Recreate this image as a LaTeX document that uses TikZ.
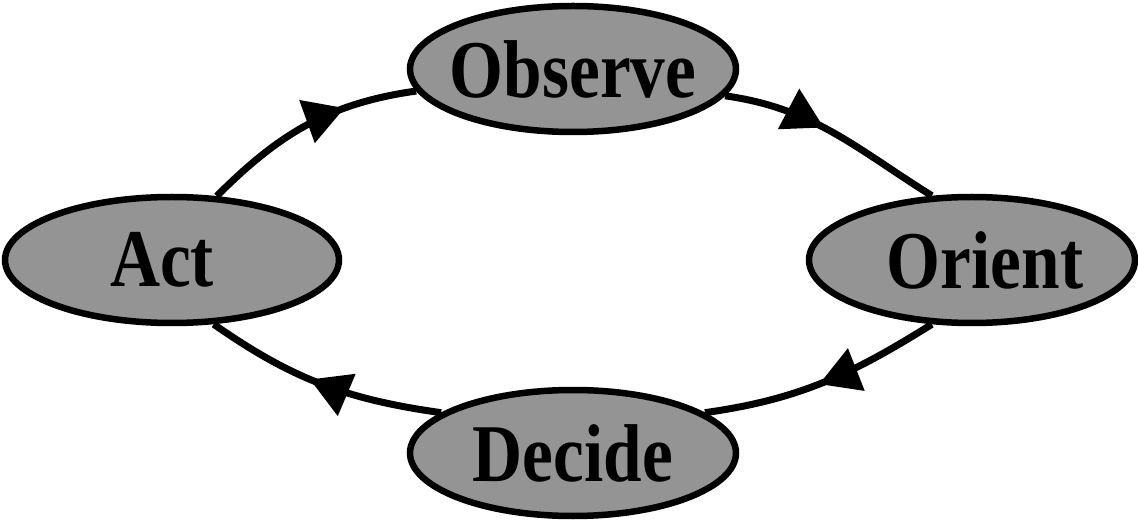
\documentclass[tikz,border=0pt]{standalone}
\usepackage{fontspec}
\setmainfont{Liberation Serif}
\newfontfamily\lblfont[FakeStretch=0.845]{Liberation Serif}
\usetikzlibrary{shapes.geometric,arrows.meta,decorations.markings}
\tikzset{
  phase/.style={ellipse, draw=black, line width=6.5pt, fill=black!42, inner sep=0pt,
    minimum width=#1, minimum height=126pt,
    font=\lblfont\fontsize{82}{82}\selectfont\bfseries},
  loop/.style={line width=7pt, postaction={decorate},
    decoration={markings, mark=at position #1 with {\arrow{Triangle[length=40pt,width=44pt]}}}},
}
\begin{document}
\begin{tikzpicture}[x=1pt,y=-1pt]
\useasboundingbox (0,0) rectangle (1138,521);
\node[phase=326pt] (obs) at (573,69) {\makebox[0pt]{Observe}};
\node[phase=334pt] (act) at (172,260) {\makebox[0pt]{\hspace*{-20pt}Act}};
\node[phase=326pt] (ori) at (972,260) {\makebox[0pt]{\hspace*{26pt}Orient}};
\node[phase=326pt] (dec) at (573,453) {\makebox[0pt]{Decide}};
\draw[loop=0.68] (act.55) to[out=45,in=188] (obs.188);
\draw[loop=0.45] (obs.-10) to[out=-8,in=148] (ori.122);
\draw[loop=0.52] (ori.-122) to[out=-148,in=8] (dec.17);
\draw[loop=0.55] (dec.163) to[out=172,in=-35] (act.-57);
\end{tikzpicture}
\end{document}
